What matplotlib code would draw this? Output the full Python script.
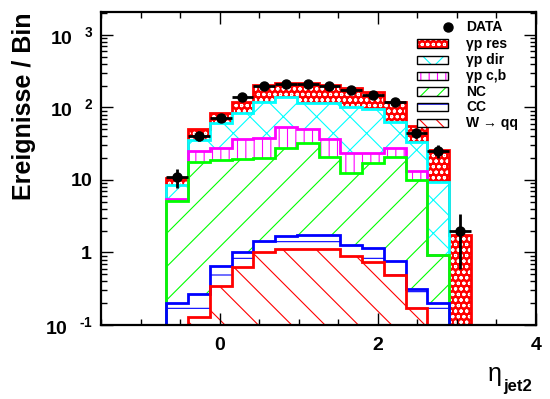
import numpy as np
import matplotlib.pyplot as plt
from matplotlib.patches import Rectangle
from matplotlib.ticker import MultipleLocator, LogLocator, FuncFormatter, NullFormatter

plt.rcParams['font.family'] = ['Liberation Sans', 'DejaVu Sans']
plt.rcParams['font.weight'] = 'bold'
plt.rcParams['mathtext.fontset'] = 'custom'
plt.rcParams['mathtext.rm'] = 'Liberation Sans:bold'
plt.rcParams['mathtext.it'] = 'Liberation Sans:bold'
plt.rcParams['mathtext.bf'] = 'Liberation Sans:bold'
plt.rcParams['hatch.linewidth'] = 0.8

# eta_jet2: 20 bins from -1.5 to 4, filled bins start at bin index 3
edges = np.linspace(-1.5, 4.0, 21)
first = 3

data   = [11, 41, 71, 141, 198, 211, 211, 198, 176, 149, 118, 44, 25, 2]
w_qq   = [0.03, 0.13, 0.35, 0.63, 1.0, 1.1, 1.1, 1.1, 0.9, 0.74, 0.49, 0.17, 0.08, 0]
cc     = [0.17, 0.14, 0.31, 0.40, 0.45, 0.60, 0.62, 0.64, 0.37, 0.41, 0.28, 0.14, 0.12, 0]
nc     = [5.0, 17.6, 18.2, 18.3, 18.6, 25.7, 30.3, 19.3, 11.1, 16.2, 19.7, 9.7, 0.72, 0]
gp_cb  = [0.2, 7.5, 8.5, 17.1, 17.5, 25.6, 18.0, 15.4, 11.4, 6.5, 6.9, 3.4, 0, 0]
gp_dir = [3.2, 10.6, 33.1, 46.6, 82.5, 88.0, 64.0, 77.6, 78.2, 70.7, 36.4, 20.3, 8.6, 0]
gp_res = [1.9, 15.0, 22.5, 35.0, 84.0, 79.0, 102.0, 90.0, 82.0, 70.5, 56.2, 21.9, 16.0, 1.74]

labels = ['W → qq', 'CC', 'NC', 'γp c,b', 'γp dir', 'γp res']
comps = [w_qq, cc, nc, gp_cb, gp_dir, gp_res]
lcolors = ['red', 'blue', '#00ff00', 'magenta', 'cyan', 'red']
hcolors = ['red', 'blue', '#00ff00', 'magenta', 'cyan', 'white']
faces = ['white', 'white', 'white', 'white', 'white', 'red']
hatches = ['\\', '-', '/', '||', 'x', 'ooo']
leg_hatches = ['\\\\', '--', '//', '||', 'x', 'ooo']

ymin, ymax = 0.1, 2075


def full(v):
    a = np.zeros(len(edges) - 1)
    a[first:first + len(v)] = v
    return a


cums = np.cumsum([full(c) for c in comps], axis=0)

fig = plt.figure(figsize=(5.5, 3.99), dpi=100)
ax = fig.add_axes([101/550, 74/399, 435/550, 313/399])
ax.set_yscale('log')

# filled stack
for i in range(len(comps)):
    lower = cums[i-1] if i > 0 else np.zeros(len(edges) - 1)
    ax.stairs(np.maximum(cums[i], ymin), edges, baseline=np.maximum(lower, ymin),
              fill=True, facecolor=faces[i], edgecolor=hcolors[i],
              hatch=hatches[i], linewidth=0)
# outlines, top of stack first
for i in reversed(range(len(comps))):
    ax.stairs(np.maximum(cums[i], ymin), edges, baseline=None,
              color=lcolors[i], linewidth=2)

centers = 0.5*(edges[:-1] + edges[1:])[first:first + len(data)]
ax.errorbar(centers, data, xerr=0.5*(edges[1] - edges[0]), yerr=np.sqrt(data),
            fmt='o', color='black', ms=6.5, lw=2, capsize=0, zorder=5)

ax.set_xlim(-1.5, 4)
ax.set_ylim(ymin, ymax)
ax.xaxis.set_major_locator(MultipleLocator(2))
ax.xaxis.set_minor_locator(MultipleLocator(0.5))
ax.yaxis.set_major_locator(LogLocator(base=10))
ax.yaxis.set_minor_locator(LogLocator(base=10, subs=np.arange(2, 10)))
ax.yaxis.set_minor_formatter(NullFormatter())


def ylab(v, pos):
    e = int(round(np.log10(v)))
    if e == 1:
        return r'$10^{\quad\enspace}$'
    if e == 0:
        return r'$1^{\quad\enspace}$'
    if e < 0:
        return r'$10^{\quad\text{-%d}}$' % (-e)
    return r'$10^{\quad %d}$' % e


ax.yaxis.set_major_formatter(FuncFormatter(ylab))
ax.tick_params(which='both', direction='in', top=True, right=True, width=1,
               labelsize=14)
ax.tick_params(which='major', length=8.5)
ax.tick_params(which='minor', length=4.5)
ax.tick_params(axis='x', pad=9)
ax.tick_params(axis='y', pad=6)
for s in ax.spines.values():
    s.set_linewidth(1.6)

fig.text(24/550, 1 - 13/399, 'Ereignisse / Bin', rotation=90, va='top',
         ha='center', fontsize=18, weight='bold')
fig.text(495/550, 1 - 374/399, 'η', fontsize=18, weight='normal',
         ha='center', va='center')
fig.text(503/550, 1 - 386/399, 'jet2', fontsize=12, weight='bold',
         ha='left', va='center')

# legend
rows = [0.952, 0.899, 0.847, 0.796, 0.746, 0.696, 0.645]
bx, bw, bh, tx = 0.7264, 0.0713, 0.027, 0.839
ax.plot(0.7985, rows[0], 'o', color='black', ms=6.5, transform=ax.transAxes,
        clip_on=False)
ax.text(tx, rows[0], 'DATA', transform=ax.transAxes, va='center', fontsize=10)
for r, i in zip(rows[1:], reversed(range(len(comps)))):
    ax.add_patch(Rectangle((bx, r - bh/2), bw, bh, transform=ax.transAxes,
                           facecolor=faces[i], edgecolor=hcolors[i],
                           hatch=leg_hatches[i], linewidth=0))
    ax.add_patch(Rectangle((bx, r - bh/2), bw, bh, transform=ax.transAxes,
                           fill=False, edgecolor='black', linewidth=1))
    ax.text(tx, r, labels[i], transform=ax.transAxes, va='center', fontsize=10)

fig.savefig('out.png', dpi=100)
